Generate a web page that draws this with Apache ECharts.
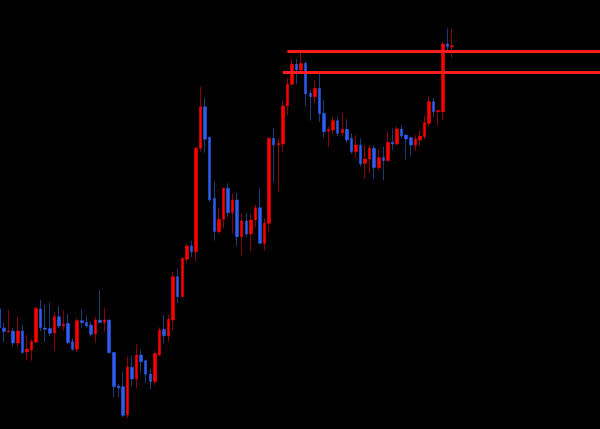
<!DOCTYPE html>
<html>
<head>
<meta charset="utf-8">
<script src="https://cdn.jsdelivr.net/npm/echarts@6/dist/echarts.min.js"></script>
<style>html,body{margin:0;padding:0;background:#000;overflow:hidden;width:600px;height:429px;}#c{position:absolute;left:-10px;top:0;width:620px;height:429px;}</style>
</head>
<body>
<div id="c"></div>
<script>
// Candle values (price units)
const openV  = [120,101,97,98,86,98,77,79,87,120,101,100.5,96,112.3,103.3,105.5,87.3,79.8,108.3,106.5,104,95,109,106.5,109,76.5,43,42.3,14.3,61.7,50,74,68.3,55,47.3,74,99.5,93,109,152.3,132.3,169.7,183,177.3,280.7,322.3,291.7,230.7,197.3,209.7,240.7,216.3,229,192.3,208,195,209,221.3,185.7,205.7,290.7,284,285,323,344.7,364.7,359,365.7,335.7,332.3,340.5,315.7,298,299,308.3,296.3,299.7,290.7,277.3,284,265.7,270,280.7,261.3,271.3,268.3,286.7,285,300,294,291.3,284,289,292.3,305.7,327.3,317.3,317.3,385,382.3];
const closeV = [101,97.5,98,86,98,76.5,80,87.5,120.5,101.5,99.7,95.7,112.3,103,105,86.5,79.7,108.3,106.3,103,94.7,109,106.5,109,76.3,42.3,41,13.7,62,50,74,67.3,54.7,47.3,75.5,99,93.3,109.7,152.3,132.3,170.7,183,177.3,280.7,322.3,289.7,229,197.3,209.7,240.7,216.3,229,192.3,208,195,209,221.3,185.7,205.7,290.7,284,285.5,323,344.7,364.7,359,365.5,335,332.3,340.5,315.5,297.3,299.5,308.3,295.7,299.7,289,277.3,284,265,270,280.7,261.3,271.3,268.3,286.7,285,300,293,290,284,290,293,306.3,327.3,317.3,318.5,385,382.3,383.3];
const lowV   = [100,87.5,96.5,83,82,75.5,69,68,86,97.5,86.5,93,78.5,100.7,98,85,78.3,77,101.3,101.5,92.5,86.5,106,97.3,75.5,32,31.7,11.7,11,43,41,56.3,45.7,39.7,44,73,85.7,87.3,99,125.7,132,165.7,171.7,167.3,277.3,276.3,227.3,188.3,195.7,200.7,212.3,195.7,182.3,174,192.3,178.3,202.3,185.5,178.3,196.3,246.3,238.3,277.3,314,344,344.7,357,323,308.3,325.7,307,291.5,281.7,295,293,293,285.7,275,270.7,262.3,250.7,255.7,249.7,259,249,268,279,284,290.7,269.7,273,278.3,283,289.7,302.3,311.7,303,309,379,371.7];
const highV  = [121,106.5,119,101,112,104,94,90,122,129,124.5,126.3,117.3,123,118.5,114.5,90.7,110.7,120,113.3,107.3,112.3,139,120.7,109.5,77,45,57,72.3,73,85,79.7,69.5,60.7,78.5,101.5,114,114,157.3,160.7,172,185,188.3,282.3,342.3,331.7,292.3,247.3,221.3,241.5,245.7,235.7,236.3,215.7,216.3,215.7,224,240.7,210.7,291.5,300.7,290.7,328,350.7,370,370,377,368,339,348.3,355.5,329,302.3,311.7,312.3,316.3,309.7,295.7,294,290.7,284,284,284,279,282.3,297.3,300.7,302.3,304,294.5,292.3,294,299,313,332.3,331.3,319,387,400.7,399.7];
// Horizontal levels and the candle where each begins
const levelValues = [377.5, 356.3];
const levelStart  = [63, 62];
// Category labels (bar numbers), padded with empty slots on the right
const candleCount = openV.length;
const totalSlots  = 133;
const categories = [];
for (let i = 0; i < totalSlots; i++) categories.push(String(i));

const wickData = [], bodyData = [];
for (let i = 0; i < candleCount; i++) {
  wickData.push([openV[i], closeV[i], lowV[i], highV[i]]);
  bodyData.push([openV[i], closeV[i], Math.min(openV[i], closeV[i]), Math.max(openV[i], closeV[i])]);
}

const chart = echarts.init(document.getElementById('c'), null, {renderer: 'canvas'});
const slotW = 4.57;
chart.setOption({
  backgroundColor: '#000000',
  animation: false,
  grid: {left: 7.215, top: 0, width: slotW * totalSlots, height: 429},
  xAxis: {type: 'category', data: categories, show: false, boundaryGap: true},
  yAxis: {type: 'value', min: 0, max: 429, show: false, splitLine: {show: false}},
  series: [
    {
      type: 'candlestick', data: wickData, barWidth: 1,
      itemStyle: {color: '#8c0000', color0: '#1b3c70', borderColor: '#8c0000', borderColor0: '#1b3c70', borderWidth: 1}
    },
    {
      type: 'candlestick', data: bodyData, barWidth: 3,
      itemStyle: {color: '#ff0000', color0: '#2f5cf2', borderColor: '#ff0000', borderColor0: '#2f5cf2', borderWidth: 0.5},
      markLine: {
        silent: true, symbol: 'none', label: {show: false}, animation: false,
        lineStyle: {color: '#ff1c1c', width: 3, type: 'solid'},
        data: levelValues.map((v, k) => [
          {xAxis: categories[levelStart[k]], yAxis: v},
          {xAxis: categories[totalSlots - 1], yAxis: v}
        ])
      }
    }
  ]
});
</script>
</body>
</html>
